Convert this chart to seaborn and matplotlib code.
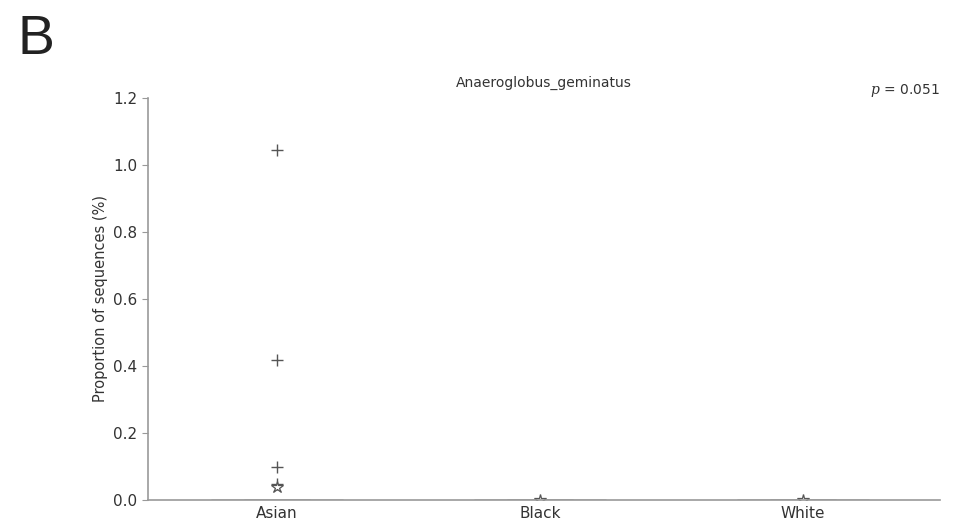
import numpy as np
import pandas as pd
import matplotlib
matplotlib.use("Agg")
import matplotlib.pyplot as plt
import seaborn as sns

categories = ["Asian", "Black", "White"]
asian_values = [1.045, 0.418, 0.100, 0.048] + [0.0] * 37
black_values = [0.0] * 30
white_values = [0.0] * 30
title = "Anaeroglobus_geminatus"
p_value = "0.051"
yticks = [0.0, 0.2, 0.4, 0.6, 0.8, 1.0, 1.2]

df = pd.DataFrame({
    "group": ["Asian"] * len(asian_values) + ["Black"] * len(black_values) + ["White"] * len(white_values),
    "value": asian_values + black_values + white_values,
})

sns.set_style("white")
plt.rcParams["font.family"] = ["DejaVu Sans"]
plt.rcParams["mathtext.fontset"] = "dejavuserif"

fig = plt.figure(figsize=(9.64, 5.29), dpi=100)
ax = fig.add_axes([0.1535, 0.0548, 0.8215, 0.76])

grey = "#555555"
sns.boxplot(data=df, x="group", y="value", order=categories, ax=ax,
            color="white", width=0.5, linewidth=1.0, linecolor="#777777",
            showmeans=True,
            meanprops=dict(marker="*", markerfacecolor="white", markeredgecolor=grey,
                           markersize=9, markeredgewidth=0.9),
            flierprops=dict(marker="+", markeredgecolor=grey, markersize=9, markeredgewidth=1.0))

for ln in ax.lines:
    ln.set_clip_on(True)

ax.set_xlim(-0.49, 2.52)
ax.set_ylim(0, 1.2)
ax.set_yticks(yticks)
ax.set_yticklabels([f"{t:.1f}" for t in yticks])
ax.set_xlabel("")
ax.set_ylabel("Proportion of sequences (%)", fontsize=10.5, color="#333333")
ax.set_title(title, fontsize=10, color="#333333", pad=8)

for s in ["top", "right"]:
    ax.spines[s].set_visible(False)
for s in ["left", "bottom"]:
    ax.spines[s].set_color("#999999")
    ax.spines[s].set_linewidth(1.2)

ax.tick_params(axis="y", direction="out", length=4, color="#999999", labelsize=11, labelcolor="#333333", left=True)
ax.tick_params(axis="x", length=0, labelsize=11, labelcolor="#333333", pad=4)

fig.text(0.975, 0.828, r"$p$ = " + p_value, ha="right", va="center", fontsize=10, color="#333333")
fig.text(0.018, 0.897, "B", ha="left", va="baseline", fontsize=40, color="#222222",
         family=["Liberation Sans", "DejaVu Sans"])

fig.savefig("out.png", dpi=100)
